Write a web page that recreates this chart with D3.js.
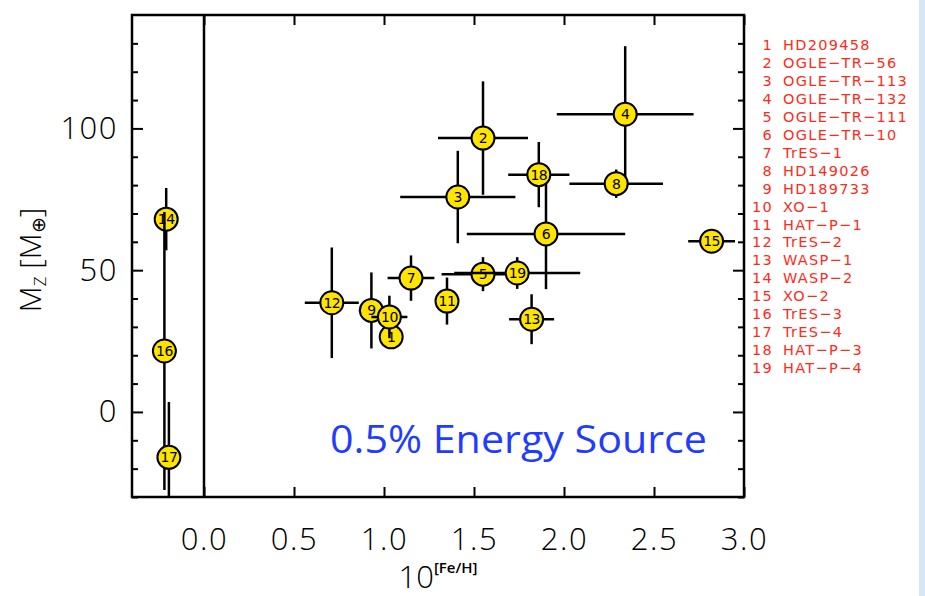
<!DOCTYPE html>
<html>
<head>
<meta charset="utf-8">
<script src="https://cdn.jsdelivr.net/npm/d3@7"></script>
<style>
	body { margin: 0; background: #fff; }
	svg { display: block; }
</style>
</head>
<body>
<div id="chart"></div>
<script>
// planets, numbered 1..19 in this order
const planetNames = ["HD209458", "OGLE\u2212TR\u221256", "OGLE\u2212TR\u2212113", "OGLE\u2212TR\u2212132",
	"OGLE\u2212TR\u2212111", "OGLE\u2212TR\u221210", "TrES\u22121", "HD149026", "HD189733", "XO\u22121",
	"HAT\u2212P\u22121", "TrES\u22122", "WASP\u22121", "WASP\u22122", "XO\u22122", "TrES\u22123", "TrES\u22124",
	"HAT\u2212P\u22123", "HAT\u2212P\u22124"]

// 10^[Fe/H] and its error
const feH = [1.04, 1.55, 1.41, 2.34, 1.55, 1.90, 1.15, 2.29, 0.93, 1.03,
	1.35, 0.71, 1.82, -0.21, 2.82, -0.22, -0.195, 1.86, 1.74]
const feHErr = [0.03, 0.25, 0.32, 0.38, 0.23, 0.44, 0.13, 0.26, 0.07, 0.10,
	0.05, 0.15, 0.125, 0.02, 0.13, 0.02, 0.02, 0.17, 0.35]

// heavy element mass M_Z (earth masses) and its error
const mZ = [26.5, 96.6, 75.8, 105, 48.6, 62.8, 47.2, 80.5, 35.8, 33.5,
	39.1, 38.5, 32.7, 68, 60.2, 21.5, -16, 83.7, 49]
const mZErr = [3.5, 20, 16.3, 24, 6, 19.5, 8, 5, 13.4, 7.5,
	8.3, 19.5, 8.8, 11, 2, 49, 19.5, 11.5, 5.6]

const xTickValues = [0.0, 0.5, 1.0, 1.5, 2.0, 2.5, 3.0]
const yMajorTicks = [0, 50, 100]
const yMinorTicks = [-30, -20, -10, 10, 20, 30, 40, 60, 70, 80, 90, 110, 120, 130]
const note = "0.5% Energy Source"

function drawChart() {
	width = 925
	height = 596
	left = 132
	right = 744
	top_ = 15
	bottom = 497

	const x = d3.scaleLinear().domain([-0.4, 3.0]).range([left, right])
	const y = d3.scaleLinear().domain([-30, 140]).range([bottom, top_])

	const svg = d3.select("#chart").append("svg")
		.attr("width", width)
		.attr("height", height)
		.attr("font-family", "'Open Sans', sans-serif")

	// light blue strip at the right edge of the slide
	svg.append("rect")
		.attr("x", 919).attr("y", 0)
		.attr("width", 6).attr("height", height)
		.attr("fill", "#d3e7f8")

	svg.append("clipPath").attr("id", "plotclip")
		.append("rect")
		.attr("x", left).attr("y", top_)
		.attr("width", right - left).attr("height", bottom - top_)

	// ticks: minor then major, on all four sides, pointing inward
	const tickStyle = g => {
		g.select(".domain").remove()
		g.selectAll(".tick line").attr("stroke", "#000").attr("stroke-width", 2)
	}

	svg.append("g").attr("transform", `translate(${left},0)`)
		.call(d3.axisLeft(y).tickValues(yMinorTicks).tickSize(-6).tickFormat(""))
		.call(tickStyle)
	svg.append("g").attr("transform", `translate(${right},0)`)
		.call(d3.axisRight(y).tickValues(yMinorTicks).tickSize(-6).tickFormat(""))
		.call(tickStyle)
	svg.append("g").attr("transform", `translate(${right},0)`)
		.call(d3.axisRight(y).tickValues(yMajorTicks).tickSize(-11).tickFormat(""))
		.call(tickStyle)

	const yAxis = svg.append("g").attr("transform", `translate(${left},0)`)
		.call(d3.axisLeft(y).tickValues(yMajorTicks).tickSize(-11).tickPadding(14).tickFormat(d3.format("d")))
		.call(tickStyle)
	yAxis.selectAll("text")
		.attr("font-family", "'Open Sans', sans-serif")
		.attr("font-weight", 300)
		.attr("font-size", 31)
		.attr("letter-spacing", 1.5)
		.attr("fill", "#000")

	svg.append("g").attr("transform", `translate(0,${top_})`)
		.call(d3.axisTop(x).tickValues(xTickValues).tickSize(-10).tickFormat(""))
		.call(tickStyle)

	const xAxis = svg.append("g").attr("transform", `translate(0,${bottom})`)
		.call(d3.axisBottom(x).tickValues(xTickValues).tickSize(-10).tickPadding(31).tickFormat(d3.format(".1f")))
		.call(tickStyle)
	xAxis.selectAll("text")
		.attr("font-family", "'Open Sans', sans-serif")
		.attr("font-weight", 300)
		.attr("font-size", 31)
		.attr("letter-spacing", 1.5)
		.attr("fill", "#000")

	// frame
	svg.append("rect")
		.attr("x", left).attr("y", top_)
		.attr("width", right - left).attr("height", bottom - top_)
		.attr("fill", "none")
		.attr("stroke", "#000")
		.attr("stroke-width", 2.5)

	// vertical line at 10^[Fe/H] = 0
	svg.append("line")
		.attr("x1", x(0)).attr("x2", x(0))
		.attr("y1", top_).attr("y2", bottom)
		.attr("stroke", "#000")
		.attr("stroke-width", 2.5)

	// points: each one gets its error bars then its circle, in order,
	// so later planets sit on top of earlier ones
	const pts = svg.append("g")
		.selectAll("g")
		.data(d3.range(planetNames.length))
		.join("g")

	pts.append("line")
		.attr("clip-path", "url(#plotclip)")
		.attr("x1", i => x(feH[i] - feHErr[i]))
		.attr("x2", i => x(feH[i] + feHErr[i]))
		.attr("y1", i => y(mZ[i]))
		.attr("y2", i => y(mZ[i]))
		.attr("stroke", "#000")
		.attr("stroke-width", 2.5)

	pts.append("line")
		.attr("clip-path", "url(#plotclip)")
		.attr("x1", i => x(feH[i]))
		.attr("x2", i => x(feH[i]))
		.attr("y1", i => y(mZ[i] - mZErr[i]))
		.attr("y2", i => y(mZ[i] + mZErr[i]))
		.attr("stroke", "#000")
		.attr("stroke-width", 2.5)

	pts.append("circle")
		.attr("cx", i => x(feH[i]))
		.attr("cy", i => y(mZ[i]))
		.attr("r", 11.5)
		.attr("fill", "#ffe400")
		.attr("stroke", "#000")
		.attr("stroke-width", 2)

	pts.append("text")
		.attr("x", i => x(feH[i]))
		.attr("y", i => y(mZ[i]))
		.attr("dy", "0.36em")
		.attr("text-anchor", "middle")
		.attr("font-family", "'DejaVu Sans', sans-serif")
		.attr("font-size", 14)
		.attr("letter-spacing", -0.5)
		.attr("fill", "#000")
		.text(i => i + 1)

	// legend list on the right
	const legend = svg.append("g")
		.selectAll("g")
		.data(planetNames)
		.join("g")
		.attr("transform", (d, i) => `translate(0,${50 + i * 17.95})`)
		.attr("fill", "#ff2a1a")
		.attr("font-family", "'DejaVu Sans', sans-serif")
		.attr("font-size", 14.5)

	legend.append("text")
		.attr("x", 773)
		.attr("text-anchor", "end")
		.attr("letter-spacing", 1.3)
		.text((d, i) => i + 1)

	legend.append("text")
		.attr("x", 783)
		.attr("letter-spacing", 1.3)
		.text(d => d)

	// energy source note
	svg.append("text")
		.attr("x", 330)
		.attr("y", 453)
		.attr("fill", "#1f3cff")
		.attr("font-family", "'Open Sans', sans-serif")
		.attr("font-size", 39)
		.attr("textLength", 377)
		.attr("lengthAdjust", "spacingAndGlyphs")
		.text(note)

	// axis titles
	const xt = svg.append("text")
		.attr("x", (left + right) / 2)
		.attr("y", 588)
		.attr("text-anchor", "middle")
		.attr("font-weight", 300)
		.attr("font-size", 31)
		.attr("fill", "#000")
	xt.append("tspan").text("10")
	xt.append("tspan").attr("font-size", 15).attr("font-weight", 600).attr("dy", -15).text("[Fe/H]")

	const yt = svg.append("text")
		.attr("transform", "translate(41,260) rotate(-90)")
		.attr("text-anchor", "middle")
		.attr("font-weight", 300)
		.attr("font-size", 30)
		.attr("fill", "#000")
	yt.append("tspan").text("M")
	yt.append("tspan").attr("font-size", 17).attr("dy", 5).text("Z")
	yt.append("tspan").attr("dy", -5).text(" [M")
	yt.append("tspan").attr("font-size", 19).attr("dy", 4).text("\u2295")
	yt.append("tspan").attr("dy", -4).text("]")
}

drawChart()
</script>
</body>
</html>
